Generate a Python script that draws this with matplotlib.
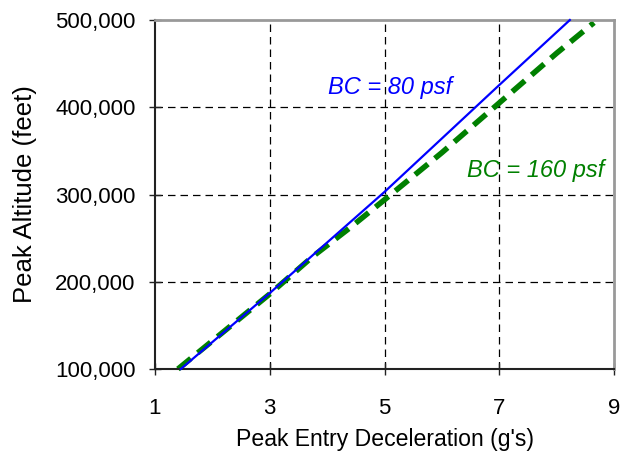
import matplotlib
matplotlib.use("Agg")
import matplotlib.pyplot as plt
from matplotlib.ticker import FuncFormatter

plt.rcParams['font.family'] = ['Liberation Sans', 'DejaVu Sans']

# Data
bc80_x = [1.45, 3.0, 5.0, 7.0, 8.23]
bc80_y = [100000, 187000, 303000, 425500, 500000]

bc160_x = [1.40, 3.0, 3.75, 4.4, 5.0, 6.0, 7.0, 8.0, 8.65]
bc160_y = [100000, 186000, 229000, 262000, 294000, 348000, 405000, 462000, 497000]

xticks = [1, 3, 5, 7, 9]
yticks = [100000, 200000, 300000, 400000, 500000]

fig = plt.figure(figsize=(6.29, 4.53), dpi=100)
ax = fig.add_axes([0.2464, 0.1854, 0.9762 - 0.2464, 0.9558 - 0.1854])

ax.set_xlim(1, 9)
ax.set_ylim(100000, 500000)
ax.set_xticks(xticks)
ax.set_yticks(yticks)
ax.yaxis.set_major_formatter(FuncFormatter(lambda v, p: f"{int(v):,}"))

for gx in xticks[1:-1]:
    ax.axvline(gx, color='black', lw=0.9, dashes=(6, 4), zorder=1)
for gy in yticks[1:-1]:
    ax.axhline(gy, color='black', lw=0.9, dashes=(6, 4), zorder=1)

ax.plot(bc80_x, bc80_y, color='#0000ff', lw=1.6, zorder=3, clip_on=False)
ax.plot(bc160_x, bc160_y, color='#008000', lw=4, dashes=(3, 1.6), zorder=2, clip_on=False)

ax.text(4.01, 423000, "BC = 80 psf", color='#0000ff', fontsize=17, style='italic',
        ha='left', va='center')
ax.text(6.44, 328000, "BC = 160 psf", color='#008000', fontsize=17, style='italic',
        ha='left', va='center')

for s in ['left', 'bottom']:
    ax.spines[s].set_color('#222222')
    ax.spines[s].set_linewidth(1.5)
for s in ['top', 'right']:
    ax.spines[s].set_color('#999999')
    ax.spines[s].set_linewidth(2)

ax.tick_params(axis='both', direction='inout', length=8, width=1, color='#222222',
               labelsize=16)
ax.tick_params(axis='x', pad=17)
ax.tick_params(axis='y', pad=10)

ax.set_xlabel("Peak Entry Deceleration (g's)", fontsize=16.6, labelpad=6)
ax.set_ylabel("Peak Altitude (feet)", fontsize=18.5, labelpad=13)

fig.savefig("out.png", dpi=100)
